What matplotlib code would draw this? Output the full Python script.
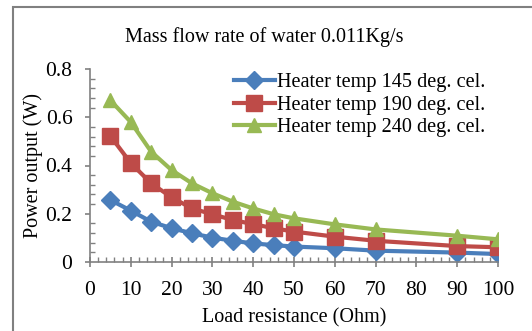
import matplotlib
matplotlib.use("Agg")
import matplotlib.pyplot as plt
from matplotlib.patches import Rectangle
from matplotlib.ticker import MultipleLocator

# ── data ──────────────────────────────────────────────────────────────────────
resistance = [5, 10, 15, 20, 25, 30, 35, 40, 45, 50, 60, 70, 90, 100]
p_145 = [0.257, 0.213, 0.167, 0.140, 0.119, 0.101, 0.088, 0.077, 0.070, 0.064, 0.057, 0.047, 0.039, 0.033]
p_190 = [0.522, 0.410, 0.326, 0.268, 0.222, 0.198, 0.174, 0.157, 0.140, 0.126, 0.105, 0.088, 0.066, 0.061]
p_240 = [0.670, 0.580, 0.457, 0.381, 0.326, 0.285, 0.250, 0.222, 0.198, 0.181, 0.156, 0.135, 0.109, 0.094]
labels = ["Heater temp 145 deg. cel.", "Heater temp 190 deg. cel.", "Heater temp 240 deg. cel."]
x_ticks = [0, 10, 20, 30, 40, 50, 60, 70, 80, 90, 100]
y_ticks = [0, 0.2, 0.4, 0.6, 0.8]
y_ticklabels = ["0", "0.2", "0.4", "0.6", "0.8"]

plt.rcParams["font.family"] = ["Liberation Serif", "DejaVu Serif"]

fig = plt.figure(figsize=(5.32, 3.31), dpi=100)
# chart-area border (Excel style), cut off at right/bottom
fig.patches.append(Rectangle((13 / 532, -0.1), 1.2, 1 - 7 / 331 + 0.1,
                             transform=fig.transFigure, fill=False,
                             edgecolor="#808080", linewidth=1.5))

ax = fig.add_axes([90 / 532, 1 - 262 / 331, (498 - 90) / 532, (262 - 69) / 331])

ax.plot(resistance, p_145, color="#4A7EBB", lw=3, marker="D", ms=9, label=labels[0])
ax.plot(resistance, p_190, color="#BE4B48", lw=3, marker="s", ms=11.5, label=labels[1])
ax.plot(resistance, p_240, color="#98B954", lw=3, marker="^", ms=10.5, label=labels[2])

ax.set_xlim(0, 100)
ax.set_ylim(0, 0.8)
ax.set_xticks(x_ticks)
ax.set_yticks(y_ticks)
ax.set_yticklabels(y_ticklabels)
ax.xaxis.set_minor_locator(MultipleLocator(2))
ax.yaxis.set_minor_locator(MultipleLocator(0.04))
ax.tick_params(which="major", width=1.2, color="#808080", labelsize=15.5)
ax.tick_params(axis="x", which="major", direction="inout", length=7, pad=10)
ax.tick_params(axis="y", which="major", direction="out", length=3.6, pad=9)
ax.tick_params(which="minor", direction="in", length=3.5, width=1.0, color="#808080")

for s in ["top", "right"]:
    ax.spines[s].set_visible(False)
for s in ["left", "bottom"]:
    ax.spines[s].set_color("#808080")
    ax.spines[s].set_linewidth(1.2)

ax.set_xlabel("Load resistance (Ohm)", fontsize=14.5, labelpad=6)
ax.set_ylabel("Power output (W)", fontsize=14.5, labelpad=2)
fig.text(264 / 532, 1 - 37 / 331, "Mass flow rate of water 0.011Kg/s",
         ha="center", va="center", fontsize=14.5)

ax.legend(loc="upper left", bbox_to_anchor=(234 / 532, 1 - 73 / 331),
          bbox_transform=fig.transFigure, frameon=False, fontsize=14.6,
          handlelength=2.0, handletextpad=0.1, labelspacing=0.17,
          borderpad=0, borderaxespad=0)

fig.savefig("out.png", dpi=100)
